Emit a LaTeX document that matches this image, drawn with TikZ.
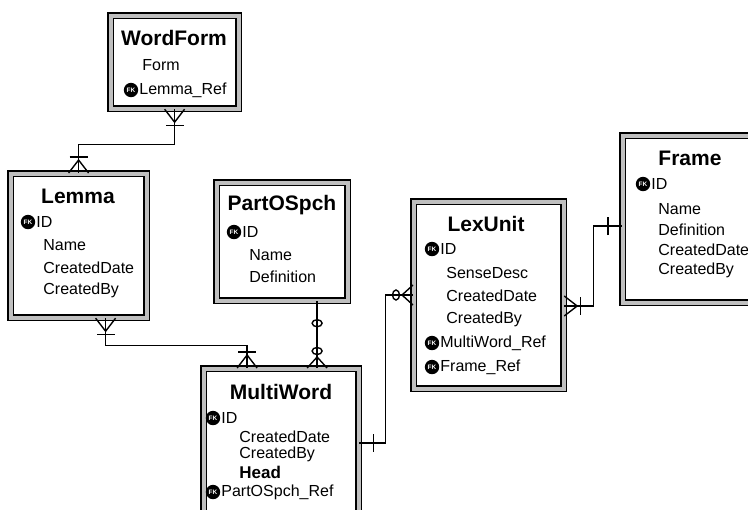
\documentclass[tikz,border=0pt]{standalone}
\usepackage{fontspec}
\setmainfont{Liberation Sans}
\usetikzlibrary{calc}
\tikzset{
  entity/.style = {draw=black,double=gray!50,double distance=2pt,line width=0.6pt,
                   anchor=north west,inner sep=0pt},
  title/.style  = {font=\fontsize{10.5}{12}\selectfont\bfseries,inner sep=0pt},
  field/.style  = {anchor=west,font=\fontsize{8}{9.6}\selectfont,inner sep=0pt},
  key/.style    = {circle,fill=black,inner sep=0pt,minimum size=7.2pt,text=white,
                   font=\fontsize{3.2}{3.2}\selectfont\bfseries},
  link/.style   = {line width=0.7pt},
  manyone/.pic  = {\draw[link] (0,-10) -- (13,0) -- (0,10); \draw[link] (16,-9) -- (16,9);},
  manyzero/.pic = {\draw[link] (0,-10) -- (11,0) -- (0,10);
                   \draw[link] (17,0) ellipse [x radius=3.5,y radius=5];},
  justone/.pic  = {\draw[link] (14,-9) -- (14,9);},
  justzero/.pic = {\draw[link] (22,0) ellipse [x radius=3.5,y radius=5];},
}

\begin{document}
\begin{tikzpicture}[x=0.5pt,y=-0.5pt]
  \useasboundingbox (0,0) rectangle (748,509);
  % tables
  \node[entity,minimum width=64pt,minimum height=46.5pt] (wordform) at (110,15) {};
  \node[entity,minimum width=68pt,minimum height=72pt]   (lemma)    at (10,173) {};
  \node[entity,minimum width=65.5pt,minimum height=59pt] (partospch) at (216,182) {};
  \node[entity,minimum width=77.5pt,minimum height=86pt] (multiword) at (203,368) {};
  \node[entity,minimum width=75pt,minimum height=93.5pt] (lexunit)  at (413,201) {};
  \node[entity,minimum width=75pt,minimum height=83.5pt] (frame)    at (622,135) {};

  \node[title] (wordform-t) at (174,38) {WordForm};
  \node[field] (wordform-form) at (142,65) {Form};
  \node[key]   (wordform-k1) at (131,90) {FK};
  \node[field] (wordform-lemma) at (139,90) {Lemma\_Ref};

  \node[title] (lemma-t) at (78,196) {Lemma};
  \node[key]   (lemma-k1) at (28,222) {FK};
  \node[field] (lemma-id) at (36,222) {ID};
  \node[field] (lemma-name) at (43,245) {Name};
  \node[field] (lemma-cdate) at (43,268) {CreatedDate};
  \node[field] (lemma-cby) at (43,290) {CreatedBy};

  \node[title] (partospch-t) at (282,205) {PartOSpch};
  \node[key]   (partospch-k1) at (234,232) {FK};
  \node[field] (partospch-id) at (242,232) {ID};
  \node[field] (partospch-name) at (249,255) {Name};
  \node[field] (partospch-def) at (249,277) {Definition};

  \node[title] (multiword-t) at (281,392) {MultiWord};
  \node[key]   (multiword-k1) at (213,418) {FK};
  \node[field] (multiword-id) at (221,418) {ID};
  \node[field] (multiword-cdate) at (239,437) {CreatedDate};
  \node[field] (multiword-cby) at (239,454) {CreatedBy};
  \node[field,font=\fontsize{8.5}{10}\selectfont\bfseries] (multiword-head) at (239,472) {Head};
  \node[key]   (multiword-k2) at (213,492) {FK};
  \node[field] (multiword-pos) at (221,492) {PartOSpch\_Ref};

  \node[title] (lexunit-t) at (486,224) {LexUnit};
  \node[key]   (lexunit-k1) at (432,249) {FK};
  \node[field] (lexunit-id) at (440,249) {ID};
  \node[field] (lexunit-sense) at (446,273) {SenseDesc};
  \node[field] (lexunit-cdate) at (446,296) {CreatedDate};
  \node[field] (lexunit-cby) at (446,319) {CreatedBy};
  \node[key]   (lexunit-k2) at (432,343) {FK};
  \node[field] (lexunit-mw) at (440,343) {MultiWord\_Ref};
  \node[key]   (lexunit-k3) at (432,367) {FK};
  \node[field] (lexunit-frame) at (440,367) {Frame\_Ref};

  \node[title] (frame-t) at (690,158) {Frame};
  \node[key]   (frame-k1) at (643,184) {FK};
  \node[field] (frame-id) at (651,184) {ID};
  \node[field] (frame-name) at (658,209) {Name};
  \node[field] (frame-def) at (658,230) {Definition};
  \node[field] (frame-cdate) at (658,250) {CreatedDate};
  \node[field] (frame-cby) at (658,270) {CreatedBy};

  % relations
  \draw[link] (wordform.south) -- ++(0,35) -| (lemma.north);
  \pic[rotate=-90] at (wordform.south) {manyone};
  \pic[rotate=90]  at (lemma.north) {manyone};

  \draw[link] ($(lemma.south)+(27,0)$) -- ++(0,27) -| ($(multiword.north)+(-34,0)$);
  \pic[rotate=-90] at ($(lemma.south)+(27,0)$) {manyone};
  \pic[rotate=90]  at ($(multiword.north)+(-34,0)$) {manyone};

  \draw[link] ($(partospch.south)+(35,0)$) -- ($(multiword.north)+(36,0)$);
  \pic[rotate=-90] at ($(partospch.south)+(35,0)$) {justzero};
  \pic[rotate=90]  at ($(multiword.north)+(36,0)$) {manyzero};

  \draw[link] ($(multiword.north east)+(0,75)$) -- ++(26,0) |- ($(lexunit.north west)+(0,94)$);
  \pic at ($(multiword.north east)+(0,75)$) {justone};
  \pic[rotate=180] at ($(lexunit.north west)+(0,94)$) {manyzero};

  \draw[link] ($(lexunit.north east)+(0,105)$) -- ++(29,0) |- ($(frame.north west)+(0,91)$);
  \pic at ($(lexunit.north east)+(0,105)$) {manyone};
  \pic[rotate=180] at ($(frame.north west)+(0,91)$) {justone};
\end{tikzpicture}
\end{document}
